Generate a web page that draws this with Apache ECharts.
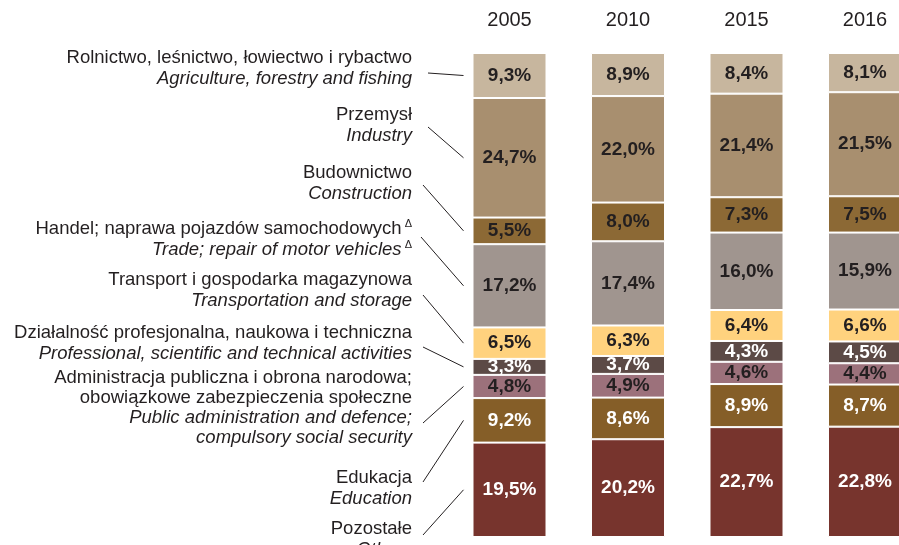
<!DOCTYPE html>
<html>
<head>
<meta charset="utf-8">
<script src="https://cdn.jsdelivr.net/npm/echarts@6/dist/echarts.min.js"></script>
<style>
  html, body { margin: 0; padding: 0; background: #fff; }
  #main { width: 899px; height: 545px; }
</style>
</head>
<body>
<div id="main"></div>
<script>
var years = ['2005', '2010', '2015', '2016']

// od gory do dolu slupka
var sectorsPl = [
  'Rolnictwo, leśnictwo, łowiectwo i rybactwo',
  'Przemysł',
  'Budownictwo',
  'Handel; naprawa pojazdów samochodowych',
  'Transport i gospodarka magazynowa',
  'Działalność profesjonalna, naukowa i techniczna',
  'Administracja publiczna i obrona narodowa;\nobowiązkowe zabezpieczenia społeczne',
  'Edukacja',
  'Pozostałe'
]
var sectorsEn = [
  'Agriculture, forestry and fishing',
  'Industry',
  'Construction',
  'Trade; repair of motor vehicles',
  'Transportation and storage',
  'Professional, scientific and technical activities',
  'Public administration and defence;\ncompulsory social security',
  'Education',
  'Others'
]

var rolnictwo = [9.3, 8.9, 8.4, 8.1]
var przemysl = [24.7, 22.0, 21.4, 21.5]
var budownictwo = [5.5, 8.0, 7.3, 7.5]
var handel = [17.2, 17.4, 16.0, 15.9]
var transport = [6.5, 6.3, 6.4, 6.6]
var profesjonalna = [3.3, 3.7, 4.3, 4.5]
var administracja = [4.8, 4.9, 4.6, 4.4]
var edukacja = [9.2, 8.6, 8.9, 8.7]
var pozostale = [19.5, 20.2, 22.7, 22.8]

var values = [rolnictwo, przemysl, budownictwo, handel, transport, profesjonalna, administracja, edukacja, pozostale]
var colors = ['#c7b69e', '#a88f6f', '#8c6935', '#a0958f', '#ffd27e', '#5c4a46', '#9c717b', '#855e28', '#77342d']
var labelColors = ['#231f20', '#231f20', '#231f20', '#231f20', '#231f20', '#ffffff', '#231f20', '#ffffff', '#ffffff']

// pozycje pierwszej linii opisow (srodek), y
var textTops = [58, 115, 173, 229, 280, 333, 378, 478, 529]
var lineStarts = [[428, 73], [428, 127], [423, 185], [421, 237], [423, 295], [423, 347], [423, 423], [423, 482], [423, 535]]

var font = '"Liberation Sans", Arial, sans-serif'
var myChart = echarts.init(document.getElementById('main'))

var series = values.map(function (arr, i) {
  return {
    name: sectorsPl[i],
    type: 'bar',
    stack: 'total',
    barWidth: 74,
    data: arr,
    itemStyle: { color: colors[i], borderColor: '#ffffff', borderWidth: 1 },
    label: {
      show: true,
      position: 'inside',
      fontFamily: font,
      fontSize: 19,
      fontWeight: 'bold',
      color: labelColors[i],
      formatter: function (p) { return p.value.toFixed(1).replace('.', ',') + '%' }
    }
  }
})

myChart.setOption({
  animation: false,
  // srodki slupkow na krancach osi (boundaryGap false)
  grid: { left: 509.5, top: 53, width: 355.5, height: 484 },
  xAxis: {
    type: 'category',
    position: 'top',
    boundaryGap: false,
    data: years,
    axisLine: { show: false },
    axisTick: { show: false },
    axisLabel: { fontFamily: font, fontSize: 20, color: '#231f20', margin: 23 }
  },
  yAxis: {
    type: 'value',
    inverse: true,
    min: 0,
    max: 100,
    show: false,
    splitLine: { show: false }
  },
  series: series
})

// opisy po lewej i linie odniesienia
var graphics = []
var cum = 0
var fs = 18.5
values.forEach(function (arr, i) {
  var pl = sectorsPl[i].split('\n').map(function (s) { return '{n|' + s + '}' })
  var en = sectorsEn[i].split('\n').map(function (s) { return '{i|' + s + '}' })
  if (i === 3) {
    pl[0] = pl[0] + '{s| Δ}'
    en[0] = en[0] + '{s| Δ}'
  }
  var lh = i === 6 ? 20 : 21
  graphics.push({
    type: 'text',
    x: 412,
    y: textTops[i] - lh / 2,
    style: {
      text: pl.concat(en).join('\n'),
      align: 'right',
      verticalAlign: 'top',
      fontFamily: font,
      fontSize: fs,
      fill: '#231f20',
      rich: {
        n: { fontFamily: font, fontSize: fs, color: '#231f20', lineHeight: lh, align: 'right' },
        i: { fontFamily: font, fontSize: fs, fontStyle: 'italic', color: '#231f20', lineHeight: lh, align: 'right' },
        s: { fontFamily: font, fontSize: 11, color: '#231f20', lineHeight: lh, verticalAlign: 'top', padding: [0, 0, 8, 0] }
      }
    }
  })
  var mid = cum + arr[0] / 2
  cum += arr[0]
  var p = myChart.convertToPixel({ gridIndex: 0 }, ['2005', mid])
  var barLeft = p[0] - 37
  graphics.push({
    type: 'line',
    shape: { x1: lineStarts[i][0], y1: lineStarts[i][1], x2: barLeft - 9, y2: p[1] },
    style: { stroke: '#231f20', lineWidth: 1 }
  })
})
myChart.setOption({ graphic: graphics })
</script>
</body>
</html>
